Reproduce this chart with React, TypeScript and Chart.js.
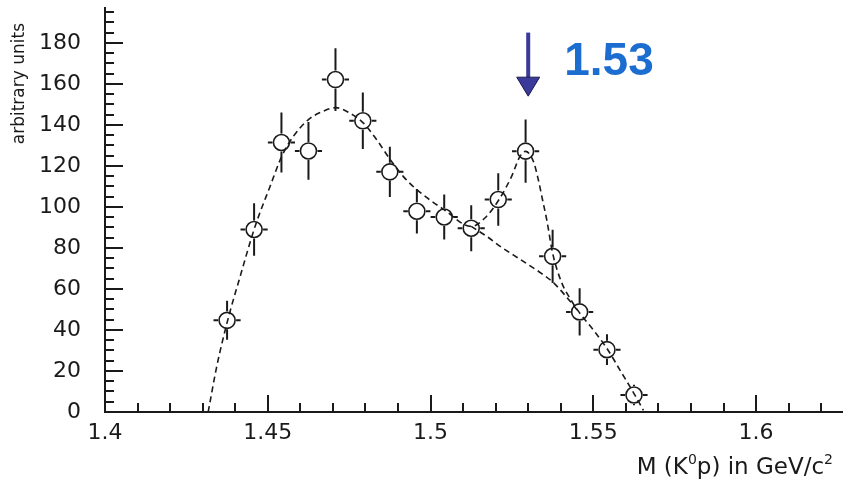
import { useEffect, useRef } from 'react';
import { Chart, registerables } from 'chart.js';

Chart.register(...registerables);

// K0p invariant-mass spectrum: bin centres (GeV/c^2), entries and statistical errors
const massBins = [1.4375, 1.4458, 1.4542, 1.4625, 1.4708, 1.4792, 1.4875, 1.4958, 1.5042, 1.5125, 1.5208, 1.5292, 1.5375, 1.5458, 1.5542, 1.5625];
const counts = [44.7, 89.0, 131.4, 127.3, 162.1, 142.0, 117.1, 97.9, 95.1, 89.6, 103.6, 127.2, 75.9, 48.8, 30.4, 8.3];
const countErrors = [9.5, 12.8, 14.6, 14.1, 15.3, 13.8, 12.2, 10.8, 11.0, 11.2, 12.8, 15.4, 13.0, 11.5, 7.5, 5.0];
const binHalfWidth = 0.00417;

// Fit: background plus Gaussian peak
const fitMass = [1.4317, 1.4343, 1.4377, 1.4415, 1.4461, 1.4507, 1.4543, 1.4579, 1.4625, 1.4671, 1.4709, 1.4747, 1.4793, 1.4834, 1.4876, 1.4916, 1.4958, 1.5042, 1.5125, 1.5167, 1.5210, 1.5249, 1.5275, 1.5292, 1.5316, 1.5331, 1.5344, 1.5357, 1.5375, 1.5403, 1.5430, 1.5459, 1.5500, 1.5544, 1.5582, 1.5625, 1.5654];
const fitValues = [0, 22.0, 44.8, 66.0, 90.5, 110.0, 124.7, 134.5, 142.6, 146.7, 148.4, 146.2, 141.0, 132.9, 123.1, 114.9, 108.4, 98.6, 90.5, 94.6, 103.5, 114.9, 124.7, 127.1, 122.2, 113.3, 103.5, 93.7, 77.5, 63.0, 55.0, 48.1, 40.0, 30.5, 20.4, 9.0, 0.8];

// Fit: background component alone under the peak
const backgroundMass = [1.5125, 1.5173, 1.5214, 1.5255, 1.5296, 1.5337, 1.5378, 1.5418, 1.5459];
const backgroundValues = [90.5, 85.6, 80.8, 76.5, 72.3, 68.0, 63.0, 56.0, 48.1];

const xTickValues = [1.4, 1.45, 1.5, 1.55, 1.6];
const yTickValues = [0, 20, 40, 60, 80, 100, 120, 140, 160, 180];

// Peak marker
const peakMass = 1.53;
const arrowFrom = 185;
const arrowTo = 154;

const INK = '#1a1a1a';
const FONT = "'DejaVu Sans', sans-serif";
const POINT_RADIUS = 8;

const toXY = (xs: number[], ys: number[]) => xs.map((x, i) => ({ x, y: ys[i] }));

const errorBars = {
  id: 'errorBars',
  afterDatasetsDraw(chart: any) {
    const { ctx, scales: { x, y } } = chart;
    const r = POINT_RADIUS + 1;
    ctx.save();
    ctx.strokeStyle = INK;
    ctx.lineWidth = 2;
    ctx.beginPath();
    massBins.forEach((m, i) => {
      const cx = x.getPixelForValue(m);
      const cy = y.getPixelForValue(counts[i]);
      const top = y.getPixelForValue(counts[i] + countErrors[i]);
      const bottom = y.getPixelForValue(Math.max(0, counts[i] - countErrors[i]));
      const left = x.getPixelForValue(m - binHalfWidth);
      const right = x.getPixelForValue(m + binHalfWidth);
      if (top < cy - r) { ctx.moveTo(cx, top); ctx.lineTo(cx, cy - r); }
      if (bottom > cy + r) { ctx.moveTo(cx, cy + r); ctx.lineTo(cx, bottom); }
      if (left < cx - r) { ctx.moveTo(left, cy); ctx.lineTo(cx - r, cy); }
      if (right > cx + r) { ctx.moveTo(cx + r, cy); ctx.lineTo(right, cy); }
    });
    ctx.stroke();
    ctx.restore();
  },
};

const axisDecor = {
  id: 'axisDecor',
  afterDraw(chart: any) {
    const { ctx, chartArea: a, scales: { x, y } } = chart;
    ctx.save();
    ctx.strokeStyle = INK;
    ctx.lineWidth = 2;
    ctx.beginPath();
    // inward tick marks: minor every 0.01 GeV, major every 0.05
    for (let k = Math.ceil(x.min * 100 - 1e-6); k <= Math.floor(x.max * 100 + 1e-6); k++) {
      const px = Math.round(x.getPixelForValue(k / 100));
      const len = k % 5 === 0 ? 17 : 9;
      ctx.moveTo(px, a.bottom);
      ctx.lineTo(px, a.bottom - len);
    }
    // minor every 5 units, major every 20
    for (let k = 0; k * 5 <= y.max; k++) {
      const py = Math.round(y.getPixelForValue(k * 5));
      const len = k % 4 === 0 ? 18 : 9;
      ctx.moveTo(a.left, py);
      ctx.lineTo(a.left + len, py);
    }
    ctx.stroke();

    // y title
    ctx.fillStyle = INK;
    ctx.font = `17px ${FONT}`;
    ctx.save();
    ctx.translate(20, 23);
    ctx.rotate(-Math.PI / 2);
    ctx.textAlign = 'right';
    ctx.textBaseline = 'middle';
    ctx.fillText('arbitrary units', 0, 0);
    ctx.restore();

    // x title with superscripts
    const parts = [
      { t: 'M (K', sup: false },
      { t: '0', sup: true },
      { t: 'p) in GeV/c', sup: false },
      { t: '2', sup: true },
    ];
    const baseFont = `23px ${FONT}`;
    const supFont = `14px ${FONT}`;
    let total = 0;
    const widths = parts.map((p) => {
      ctx.font = p.sup ? supFont : baseFont;
      const w = ctx.measureText(p.t).width;
      total += w;
      return w;
    });
    let cursor = 833 - total;
    const baseY = 474;
    ctx.textAlign = 'left';
    ctx.textBaseline = 'alphabetic';
    parts.forEach((p, i) => {
      ctx.font = p.sup ? supFont : baseFont;
      ctx.fillText(p.t, cursor, p.sup ? baseY - 10 : baseY);
      cursor += widths[i];
    });

    // peak arrow and label
    const ax = x.getPixelForValue(peakMass);
    const y0 = y.getPixelForValue(arrowFrom);
    const y1 = y.getPixelForValue(arrowTo);
    const headH = 19;
    const headW = 11.5;
    ctx.fillStyle = '#3a3a9a';
    ctx.fillRect(ax - 2, y0, 4, y1 - y0 - headH + 1);
    ctx.beginPath();
    ctx.moveTo(ax - headW, y1 - headH);
    ctx.lineTo(ax + headW, y1 - headH);
    ctx.lineTo(ax, y1);
    ctx.closePath();
    ctx.fill();
    ctx.strokeStyle = '#1c1c50';
    ctx.lineWidth = 1;
    ctx.stroke();

    ctx.fillStyle = '#1c6dd0';
    ctx.font = "bold 46px 'Liberation Sans', Arial, sans-serif";
    ctx.textAlign = 'left';
    ctx.textBaseline = 'alphabetic';
    ctx.fillText(peakMass.toFixed(2), ax + 36, y.getPixelForValue(164.5));
    ctx.restore();
  },
};

export default function App() {
  const canvasRef = useRef<HTMLCanvasElement | null>(null);

  useEffect(() => {
    const canvas = canvasRef.current;
    if (!canvas) return;
    const chart = new Chart(canvas, {
      type: 'scatter',
      data: {
        datasets: [
          {
            label: 'data',
            data: toXY(massBins, counts),
            pointStyle: 'circle',
            pointRadius: POINT_RADIUS,
            pointBorderWidth: 1.6,
            pointBorderColor: INK,
            pointBackgroundColor: 'rgba(0,0,0,0)',
            showLine: false,
          },
          {
            label: 'fit',
            data: toXY(fitMass, fitValues),
            showLine: true,
            pointRadius: 0,
            borderColor: INK,
            borderWidth: 1.6,
            borderDash: [6, 4],
            cubicInterpolationMode: 'monotone',
            fill: false,
          },
          {
            label: 'background',
            data: toXY(backgroundMass, backgroundValues),
            showLine: true,
            pointRadius: 0,
            borderColor: INK,
            borderWidth: 1.6,
            borderDash: [6, 4],
            cubicInterpolationMode: 'monotone',
            fill: false,
          },
        ],
      },
      options: {
        animation: false,
        responsive: false,
        devicePixelRatio: 1,
        layout: { autoPadding: false, padding: { top: 8, left: 0, right: 0, bottom: 0 } },
        plugins: { legend: { display: false }, tooltip: { enabled: false } },
        events: [],
        scales: {
          x: {
            type: 'linear',
            min: 1.4,
            max: 1.6267,
            afterBuildTicks: (s: any) => { s.ticks = xTickValues.map((value) => ({ value })); },
            afterFit: (s: any) => {
              s.height = 67;
              s.paddingLeft = 0;
              s.paddingRight = 0;
              s.paddingTop = 0;
              s.paddingBottom = 0;
            },
            grid: { display: false, drawTicks: false },
            border: { display: true, color: INK, width: 2 },
            ticks: {
              padding: 8,
              color: INK,
              font: { family: FONT, size: 22 },
              maxRotation: 0,
              autoSkip: false,
              callback: (v: any) => String(v),
            },
          },
          y: {
            type: 'linear',
            min: 0,
            max: 197,
            afterBuildTicks: (s: any) => { s.ticks = yTickValues.map((value) => ({ value })); },
            afterFit: (s: any) => {
              s.width = 105;
              s.paddingLeft = 0;
              s.paddingRight = 0;
              s.paddingTop = 0;
              s.paddingBottom = 0;
            },
            grid: { display: false, drawTicks: false },
            border: { display: true, color: INK, width: 2 },
            ticks: {
              padding: 24,
              color: INK,
              font: { family: FONT, size: 22 },
              autoSkip: false,
              callback: (v: any) => String(v),
            },
          },
        },
      },
      plugins: [errorBars, axisDecor],
    });
    return () => chart.destroy();
  }, []);

  return (
    <div style={{ position: 'fixed', left: 0, top: 0, width: 843, height: 479, background: '#fff' }}>
      <canvas ref={canvasRef} width={843} height={479} style={{ display: 'block' }} />
    </div>
  );
}
